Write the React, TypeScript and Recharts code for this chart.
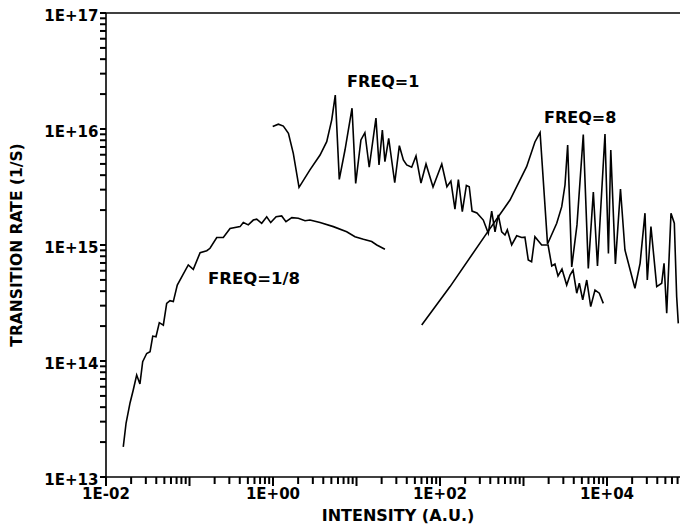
import React from 'react';
import { LineChart, Line, XAxis, YAxis, ReferenceLine, Customized } from 'recharts';

// FREQ=1/8 curve
const freq18Intensity = [
  0.0161, 0.0174, 0.0194, 0.0212, 0.0233, 0.0255, 0.0275, 0.0307, 0.0337, 0.0363,
  0.0397, 0.0435, 0.0486, 0.0533, 0.0584, 0.064, 0.0714, 0.0829, 0.0967, 0.111,
  0.134, 0.161, 0.176, 0.212, 0.254, 0.306, 0.403, 0.441, 0.506, 0.581,
  0.638, 0.732, 0.841, 0.939, 1.09, 1.27, 1.43, 1.68, 2.01, 2.42,
  2.77, 3.66, 5.28, 7.63, 9.59, 12.1, 15.2, 17.5, 21.9,
];
const freq18Rate = [
  1.82e13, 2.92e13, 4.35e13, 5.62e13, 7.57e13, 6.34e13, 9.86e13, 1.16e14, 1.2e14, 1.64e14,
  1.62e14, 2.14e14, 2.04e14, 3.14e14, 3.31e14, 3.25e14, 4.52e14, 5.51e14, 6.73e14, 6.17e14,
  8.59e14, 8.93e14, 9.37e14, 1.16e15, 1.16e15, 1.39e15, 1.44e15, 1.56e15, 1.49e15, 1.64e15,
  1.67e15, 1.54e15, 1.75e15, 1.56e15, 1.75e15, 1.78e15, 1.59e15, 1.72e15, 1.7e15, 1.62e15,
  1.64e15, 1.56e15, 1.44e15, 1.3e15, 1.18e15, 1.12e15, 1.07e15, 1.0e15, 9.18e14,
];

// FREQ=1 curve
const freq1Intensity = [
  0.992, 1.16, 1.33, 1.53, 1.75, 2.05, 2.77, 3.66, 4.4, 5.05,
  5.57, 6.22, 7.28, 8.84, 9.78, 11.3, 12.6, 14.2, 17.1, 18.6,
  20.4, 21.9, 24.3, 28.7, 32.6, 36.4, 39.9, 45.8, 51.6, 59.2,
  68.0, 82.5, 105, 121, 135, 151, 166, 185, 207, 224,
  242, 277, 330, 379, 416, 456, 499, 548, 600, 640,
  722, 829, 952, 1040, 1140, 1250, 1370, 1650, 1970, 2180,
  2380, 2590, 2890, 3290, 3610, 3920, 4340, 4660, 5120, 5720,
  6380, 7180, 8090, 9030,
];
const freq1Rate = [
  1.05e16, 1.1e16, 1.06e16, 9.19e15, 6.17e15, 3.14e15, 4.44e15, 5.97e15, 7.78e15, 1.2e16,
  1.96e16, 3.68e15, 6.59e15, 1.51e16, 3.4e15, 8.04e15, 9.29e15, 4.68e15, 1.24e16, 4.9e15,
  9.8e15, 5.23e15, 8.32e15, 3.44e15, 7.18e15, 5.41e15, 4.9e15, 4.68e15, 5.85e15, 3.42e15,
  4.99e15, 3.16e15, 4.99e15, 3.18e15, 3.56e15, 2.04e15, 3.67e15, 1.94e15, 3.26e15, 3.18e15,
  1.96e15, 1.89e15, 1.64e15, 1.26e15, 1.96e15, 1.3e15, 1.82e15, 1.3e15, 1.22e15, 1.35e15,
  1.0e15, 1.2e15, 1.16e15, 1.17e15, 7.43e14, 7.18e14, 1.18e15, 1.0e15, 1.0e15, 6.59e14,
  6.85e14, 5.41e14, 6.21e14, 4.52e14, 5.51e14, 6.08e14, 3.84e14, 4.68e14, 3.36e14, 4.99e14,
  2.94e14, 4.09e14, 3.84e14, 3.14e14,
];

// FREQ=8 curve
const freq8Intensity = [
  60.4, 132, 362, 689, 1090, 1370, 1580, 1940, 2500, 2870,
  3140, 3380, 3780, 4370, 5200, 5970, 6860, 7690, 9460, 10400,
  11100, 12600, 14500, 16400, 21600, 24900, 28500, 30400, 33600, 39400,
  45200, 48200, 51900, 58400, 64000, 68300, 71400,
];
const freq8Rate = [
  2.04e14, 4.38e14, 1.26e15, 2.44e15, 4.73e15, 7.73e15, 9.33e15, 1.02e15, 1.54e15, 2.14e15,
  3.29e15, 7.28e15, 6.46e14, 1.49e15, 8.97e15, 6.29e14, 2.86e15, 6.59e14, 9.06e15, 8.47e14,
  6.59e15, 6.85e14, 3.04e15, 9.06e14, 4.24e14, 6.95e14, 1.88e15, 4.99e14, 1.44e15, 4.38e14,
  4.68e14, 6.95e14, 2.58e14, 1.88e15, 1.54e15, 3.58e14, 2.11e14,
];

// axes (figure is cropped on the right, past 1E+04)
const xMajors = [1e-2, 1e-1, 1, 10, 100, 1e3, 1e4, 1e5, 1e6];
const xMajorLabels = ['1E-02', '', '1E+00', '', '1E+02', '', '1E+04', '', ''];
const yMajors = [1e13, 1e14, 1e15, 1e16, 1e17];
const yMajorLabels = ['1E+13', '1E+14', '1E+15', '1E+16', '1E+17'];
const minorSteps = [2, 3, 4, 5, 6, 7, 8, 9];

const withMinors = (majors: number[]) => {
  const out: number[] = [];
  majors.forEach((m, k) => {
    out.push(m);
    if (k < majors.length - 1) minorSteps.forEach((s) => out.push(m * s));
  });
  return out;
};
const xTicks = withMinors(xMajors);
const yTicks = withMinors(yMajors);

const toPoints = (xs: number[], ys: number[]) => xs.map((i, k) => ({ i, r: ys[k] }));
const freq18Data = toPoints(freq18Intensity, freq18Rate);
const freq1Data = toPoints(freq1Intensity, freq1Rate);
const freq8Data = toPoints(freq8Intensity, freq8Rate);

const font = '"DejaVu Sans", sans-serif';
const textStyle = { fontWeight: 'bold', fontFamily: font, fill: '#000' } as const;

// tick mark + label; x/y arrive on the axis line because tickSize/tickMargin are 0
const XTick = (props: any) => {
  const { x, y, payload } = props;
  const k = xMajors.indexOf(payload.value);
  const len = k >= 0 ? 9 : 7;
  return (
    <g>
      <rect x={x - 1} y={y} width={2} height={len} fill="#000" />
      {k >= 0 && xMajorLabels[k] ? (
        <text x={x} y={y + 22} textAnchor="middle" fontSize={15} {...textStyle}>
          {xMajorLabels[k]}
        </text>
      ) : null}
    </g>
  );
};

const YTick = (props: any) => {
  const { x, y, payload } = props;
  const k = yMajors.indexOf(payload.value);
  return (
    <g>
      <rect x={x - 6} y={y - 1} width={6} height={2} fill="#000" />
      {k >= 0 ? (
        <text x={x - 7.5} y={y + 7.5} textAnchor="end" fontSize={15} {...textStyle}>
          {yMajorLabels[k]}
        </text>
      ) : null}
    </g>
  );
};

const Annotations = () => (
  <g>
    <text x={347} y={87} fontSize={16} {...textStyle}>FREQ=1</text>
    <text x={544} y={123} fontSize={16} {...textStyle}>FREQ=8</text>
    <text x={208} y={284} fontSize={16.5} {...textStyle}>FREQ=1/8</text>
    <text x={398} y={521} textAnchor="middle" fontSize={16} {...textStyle}>INTENSITY (A.U.)</text>
    <text x={17} y={245} textAnchor="middle" dominantBaseline="central" transform="rotate(-90, 17, 245)" fontSize={15.5} {...textStyle}>
      TRANSITION RATE (1/S)
    </text>
  </g>
);

export default function App() {
  return (
    <div style={{ position: 'absolute', left: 0, top: 0, width: 680, height: 530, overflow: 'hidden', background: '#fff' }}>
      <LineChart width={800} height={530} margin={{ top: 13, right: 26, bottom: 0, left: 0 }}>
        <XAxis
          dataKey="i"
          type="number"
          scale="log"
          domain={[1e-2, 1e6]}
          allowDataOverflow
          ticks={xTicks}
          interval={0}
          tickSize={0}
          tickMargin={0}
          tickLine={false}
          tick={XTick}
          height={53}
          axisLine={{ stroke: '#000', strokeWidth: 1.6 }}
        />
        <YAxis
          dataKey="r"
          type="number"
          scale="log"
          domain={[1e13, 1e17]}
          allowDataOverflow
          ticks={yTicks}
          interval={0}
          tickSize={0}
          tickMargin={0}
          tickLine={false}
          tick={YTick}
          width={106}
          axisLine={{ stroke: '#000', strokeWidth: 1.6 }}
        />
        <ReferenceLine y={1e17} stroke="#000" strokeWidth={1.6} />
        <Line data={freq18Data} dataKey="r" type="linear" stroke="#000" strokeWidth={1.6} dot={false} isAnimationActive={false} />
        <Line data={freq1Data} dataKey="r" type="linear" stroke="#000" strokeWidth={1.6} dot={false} isAnimationActive={false} />
        <Line data={freq8Data} dataKey="r" type="linear" stroke="#000" strokeWidth={1.6} dot={false} isAnimationActive={false} />
        <Customized component={Annotations} />
      </LineChart>
    </div>
  );
}
